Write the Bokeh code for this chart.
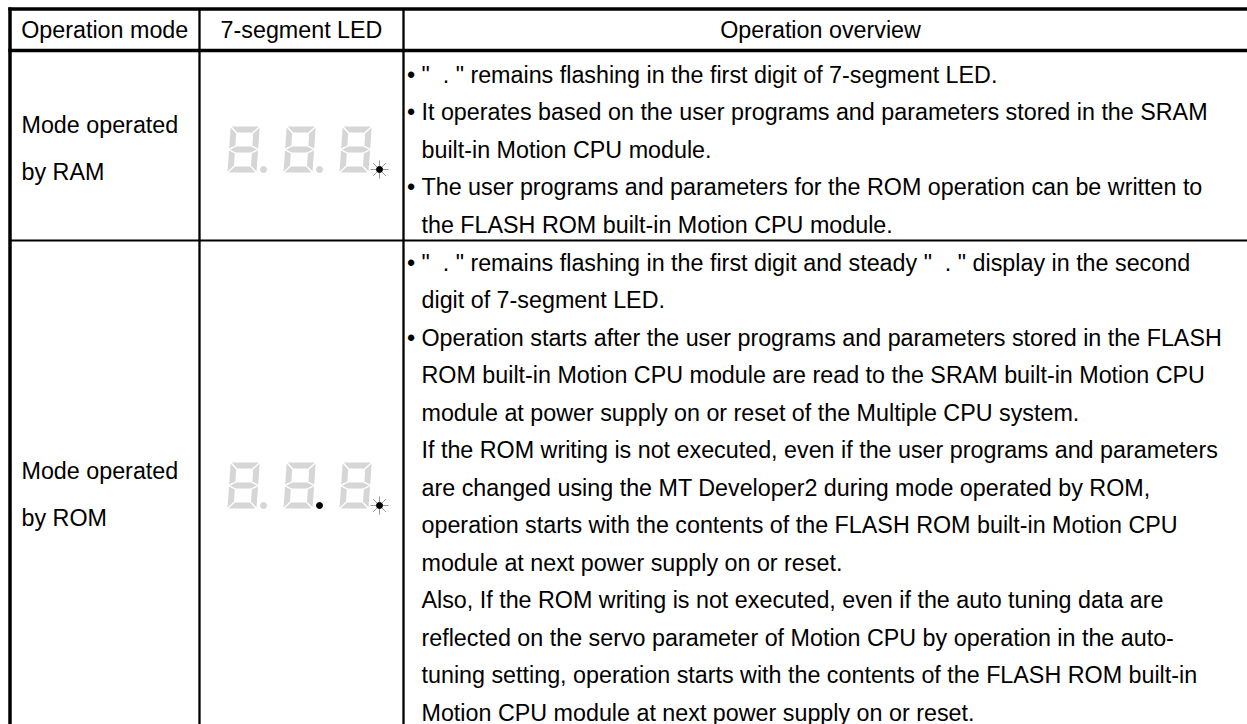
from bokeh.plotting import figure
from bokeh.models import Range1d
from bokeh.core.properties import value
from bokeh.embed import file_html
from bokeh.resources import INLINE
import math

# ---------------- data ----------------
headers = ["Operation mode", "7-segment LED", "Operation overview"]
mode_names = [["Mode operated", "by RAM"], ["Mode operated", "by ROM"]]

LEDDOT = '"\u00a0\u00a0.\u00a0"'
# (bullet?, text)
overview_ram = [
    (True, LEDDOT + " remains flashing in the first digit of 7-segment LED."),
    (True, "It operates based on the user programs and parameters stored in the SRAM"),
    (False, "built-in Motion CPU module."),
    (True, "The user programs and parameters for the ROM operation can be written to"),
    (False, "the FLASH ROM built-in Motion CPU module."),
]
overview_rom = [
    (True, LEDDOT + " remains flashing in the first digit and steady " + LEDDOT + " display in the second"),
    (False, "digit of 7-segment LED."),
    (True, "Operation starts after the user programs and parameters stored in the FLASH"),
    (False, "ROM built-in Motion CPU module are read to the SRAM built-in Motion CPU"),
    (False, "module at power supply on or reset of the Multiple CPU system."),
    (False, "If the ROM writing is not executed, even if the user programs and parameters"),
    (False, "are changed using the MT Developer2 during mode operated by ROM,"),
    (False, "operation starts with the contents of the FLASH ROM built-in Motion CPU"),
    (False, "module at next power supply on or reset."),
    (False, "Also, If the ROM writing is not executed, even if the auto tuning data are"),
    (False, "reflected on the servo parameter of Motion CPU by operation in the auto-"),
    (False, "tuning setting, operation starts with the contents of the FLASH ROM built-in"),
    (False, "Motion CPU module at next power supply on or reset."),
]
# decimal point state after digit 1 and digit 2 ("off" grey / "on" black); last digit flashing
led_dots = [["off", "off"], ["off", "on"]]
led_flash = [True, True]

# ---------------- layout ----------------
FONT = value("Liberation Sans")
FS = "23.3px"
W, H = 1247, 724

col_edges = [9.5, 199, 403, W]
top_y, head_y, row_sep = 8.5, 50, 240

p = figure(width=W, height=H, x_range=Range1d(0, W), y_range=Range1d(H, 0),
           output_backend="svg", toolbar_location=None, min_border=0)
p.axis.visible = False
p.grid.visible = False
p.outline_line_color = None
p.background_fill_color = "white"
p.border_fill_color = "white"

# table rules
p.segment(x0=[col_edges[0] - 1.7] * 2, y0=[top_y, head_y], x1=[W] * 2, y1=[top_y, head_y],
          line_color="black", line_width=3.3)
p.segment(x0=[col_edges[0]], y0=[row_sep], x1=[W], y1=[row_sep], line_color="black", line_width=1.8)
p.segment(x0=[col_edges[0]], y0=[top_y - 1.6], x1=[col_edges[0]], y1=[H], line_color="black", line_width=3.5)
p.segment(x0=col_edges[1:3], y0=[top_y] * 2, x1=col_edges[1:3], y1=[H] * 2,
          line_color="black", line_width=2.3)

def txt(xs, ys, texts, align="left"):
    p.text(x=xs, y=ys, text=texts, text_font=FONT, text_font_size=FS,
           text_baseline="middle", text_align=align, text_color="black")

# header
hx = [(col_edges[0] + col_edges[1]) / 2, (col_edges[1] + col_edges[2]) / 2, 820]
txt(hx, [29] * 3, headers, align="center")

# mode names
mode_y = [[124, 171], [470, 517]]
for names, ys in zip(mode_names, mode_y):
    txt([21] * len(names), ys, names)

# overview text
def overview(lines, y_start, step):
    ys = [y_start + i * step for i in range(len(lines))]
    txt([421] * len(lines), ys, [t for _, t in lines])
    by = [y for (b, _), y in zip(lines, ys) if b]
    txt([406.5] * len(by), by, ["\u2022"] * len(by))

overview(overview_ram, 74, 37.5)
overview(overview_rom, 262, 37.5)

# 7-segment LEDs
def digit(x0, y0, w, h, t=6.0, g=1.0, s=0.07):
    segs = [
        [(g, 0), (w - g, 0), (w - t - g, t), (t + g, t)],
        [(g, h), (w - g, h), (w - t - g, h - t), (t + g, h - t)],
        [(0, g), (t, t + g), (t, h / 2 - t / 2 - g), (0, h / 2 - g)],
        [(w, g), (w - t, t + g), (w - t, h / 2 - t / 2 - g), (w, h / 2 - g)],
        [(0, h / 2 + g), (t, h / 2 + t / 2 + g), (t, h - t - g), (0, h - g)],
        [(w, h / 2 + g), (w - t, h / 2 + t / 2 + g), (w - t, h - t - g), (w, h - g)],
        [(g, h / 2), (t + g, h / 2 - t / 2), (w - t - g, h / 2 - t / 2), (w - g, h / 2),
         (w - t - g, h / 2 + t / 2), (t + g, h / 2 + t / 2)],
    ]
    xs = [[x0 + u + s * (h - v) for u, v in seg] for seg in segs]
    ys = [[y0 + v for u, v in seg] for seg in segs]
    return xs, ys

digit_x = [227, 283, 339]
led_top = [126, 462]
DW, DH = 29, 46
for r, top in enumerate(led_top):
    XS, YS = [], []
    for dx in digit_x:
        xs, ys = digit(dx, top, DW, DH)
        XS += xs
        YS += ys
    p.patches(XS, YS, fill_color="#d6d6d6", line_color=None)
    # decimal points
    for i, state in enumerate(led_dots[r]):
        cx = digit_x[i] + DW + 7
        cy = top + DH - 3
        if state == "on":
            p.scatter([cx], [cy], size=6, color="black")
        else:
            p.scatter([cx], [cy], size=6, color="#d6d6d6")
    if led_flash[r]:
        cx = digit_x[2] + DW + 11
        cy = top + DH - 3
        rx0, ry0, rx1, ry1 = [], [], [], []
        for k in range(8):
            a = k * math.pi / 4
            rx0.append(cx + 3.5 * math.cos(a)); ry0.append(cy + 3.5 * math.sin(a))
            rx1.append(cx + 9.0 * math.cos(a)); ry1.append(cy + 9.0 * math.sin(a))
        p.segment(rx0, ry0, rx1, ry1, line_color="#808080", line_width=0.8)
        p.scatter([cx], [cy], size=6, color="black")

open("out.html", "w").write(file_html(p, INLINE))
